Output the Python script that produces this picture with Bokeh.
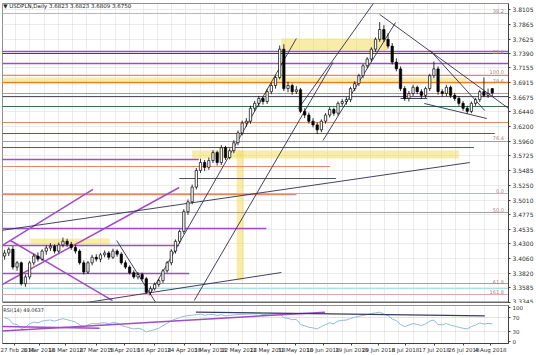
import numpy as np
from bokeh.plotting import figure
from bokeh.models import Range1d, FixedTicker, Label, Span, BoxAnnotation, Grid, PrintfTickFormatter
from bokeh.layouts import column
from bokeh.embed import file_html
from bokeh.resources import INLINE
from bokeh.core.properties import value

# ---------------- data ----------------
opens = [3.410,3.415,3.421,3.392,3.399,3.365,3.376,3.399,3.410,3.405,
         3.418,3.423,3.426,3.418,3.428,3.434,3.429,3.424,3.418,3.399,
         3.384,3.399,3.408,3.405,3.412,3.415,3.408,3.418,3.413,3.399,
         3.392,3.383,3.376,3.380,3.373,3.351,3.357,3.364,3.370,3.386,
         3.399,3.418,3.434,3.450,3.482,3.498,3.522,3.549,3.562,3.554,
         3.565,3.578,3.562,3.586,3.570,3.581,3.594,3.610,3.626,3.629,
         3.650,3.658,3.666,3.661,3.677,3.687,3.700,3.746,3.682,3.687,
         3.677,3.680,3.645,3.639,3.629,3.623,3.615,3.629,3.639,3.648,
         3.642,3.658,3.661,3.664,3.682,3.690,3.703,3.719,3.730,3.746,
         3.762,3.778,3.762,3.751,3.725,3.714,3.682,3.666,3.674,3.684,
         3.677,3.671,3.682,3.703,3.714,3.677,3.674,3.684,3.671,3.666,
         3.658,3.650,3.645,3.658,3.664,3.677,3.671,3.682]
highs = [3.420,3.424,3.426,3.402,3.401,3.380,3.402,3.414,3.416,3.421,
         3.427,3.431,3.429,3.432,3.440,3.438,3.433,3.428,3.421,3.403,
         3.402,3.412,3.413,3.415,3.419,3.418,3.422,3.421,3.416,3.403,
         3.395,3.387,3.384,3.383,3.376,3.361,3.367,3.373,3.389,3.402,
         3.421,3.437,3.453,3.486,3.502,3.526,3.553,3.568,3.566,3.570,
         3.582,3.581,3.590,3.589,3.585,3.598,3.614,3.630,3.634,3.654,
         3.662,3.670,3.669,3.681,3.691,3.703,3.752,3.754,3.693,3.690,
         3.686,3.683,3.650,3.643,3.634,3.627,3.632,3.642,3.652,3.651,
         3.661,3.665,3.668,3.685,3.694,3.706,3.722,3.733,3.749,3.765,
         3.790,3.785,3.772,3.756,3.731,3.718,3.686,3.678,3.688,3.687,
         3.681,3.685,3.706,3.726,3.718,3.681,3.688,3.687,3.675,3.670,
         3.662,3.654,3.661,3.667,3.680,3.700,3.682,3.682]
lows = [3.404,3.410,3.388,3.386,3.362,3.360,3.372,3.395,3.401,3.402,
        3.412,3.418,3.414,3.415,3.424,3.425,3.420,3.414,3.396,3.380,
        3.381,3.395,3.401,3.400,3.408,3.404,3.405,3.409,3.396,3.389,
        3.380,3.373,3.372,3.370,3.349,3.347,3.354,3.360,3.366,3.383,
        3.395,3.414,3.430,3.446,3.477,3.494,3.518,3.545,3.548,3.550,
        3.561,3.557,3.558,3.566,3.567,3.577,3.590,3.606,3.620,3.625,
        3.645,3.653,3.656,3.657,3.673,3.682,3.697,3.678,3.676,3.672,
        3.673,3.642,3.634,3.625,3.619,3.608,3.611,3.625,3.635,3.638,
        3.638,3.654,3.656,3.660,3.678,3.686,3.699,3.715,3.726,3.742,
        3.758,3.758,3.747,3.721,3.710,3.678,3.662,3.661,3.670,3.673,
        3.666,3.667,3.678,3.699,3.672,3.669,3.670,3.667,3.662,3.654,
        3.646,3.641,3.642,3.654,3.660,3.668,3.667,3.670]
closes = [3.415,3.421,3.392,3.399,3.365,3.376,3.399,3.410,3.405,3.418,
          3.423,3.426,3.418,3.428,3.434,3.429,3.424,3.418,3.399,3.384,
          3.399,3.408,3.405,3.412,3.415,3.408,3.418,3.413,3.399,3.392,
          3.383,3.376,3.380,3.373,3.351,3.357,3.364,3.370,3.386,3.399,
          3.418,3.434,3.450,3.482,3.498,3.522,3.549,3.562,3.554,3.565,
          3.578,3.562,3.586,3.570,3.581,3.594,3.610,3.626,3.629,3.650,
          3.658,3.666,3.661,3.677,3.687,3.700,3.746,3.682,3.687,3.677,
          3.680,3.645,3.639,3.629,3.623,3.615,3.629,3.639,3.648,3.642,
          3.658,3.661,3.664,3.682,3.690,3.703,3.719,3.730,3.746,3.762,
          3.778,3.762,3.751,3.725,3.714,3.682,3.666,3.674,3.684,3.677,
          3.671,3.682,3.703,3.714,3.677,3.674,3.684,3.671,3.666,3.658,
          3.650,3.645,3.658,3.664,3.677,3.671,3.674,3.675]
rsi = [70,66,52,50,38, 42,52,57,55,60, 62,63,60,64,67, 64,61,57,49,43,
       49,53,52,54,55, 52,56,54,47,44, 40,37,39,36,28, 32,35,39,47,53,
       61,66,70,74,76, 77,79,80,77,79, 80,76,79,75,77, 78,79,80,80,81,
       81,82,79,80,81, 81,83,70,68,64, 65,50,46,42,40, 37,44,50,55,52,
       60,62,63,68,71, 74,77,79,82,84, 86,80,76,66,61, 50,44,48,53,50,
       47,52,60,63,50, 49,53,48,45,42, 39,37,44,48,55, 51,53,52]

price_ticks = [3.3345,3.3585,3.3820,3.4060,3.4300,3.4535,3.4775,3.5010,3.5250,
               3.5485,3.5725,3.5960,3.6200,3.6440,3.6675,3.6915,3.7155,3.7390,
               3.7625,3.7865,3.8105]
rsi_ticks = [0, 30, 70, 100]
date_labels = ["27 Feb 2018","8 Mar 2018","18 Mar 2018","27 Mar 2018","5 Apr 2018",
               "16 Apr 2018","24 Apr 2018","3 May 2018","12 May 2018","22 May 2018",
               "31 May 2018","10 Jun 2018","19 Jun 2018","29 Jun 2018","8 Jul 2018",
               "17 Jul 2018","26 Jul 2018","4 Aug 2018"]
date_pos = [2.3,8.3,14.7,22.1,28.8,35.9,43.1,49.3,56.2,63.1,69.7,76.4,83.3,89.7,96.2,103.1,110.2,116.6]
last_price = 3.6750

# horizontal levels: (price, x_from, x_to)
purple_levels = [(3.7422,-1,121),(3.7228,-1,121),(3.5668,-1,46.6),(3.4547,-1,62.8),
                 (3.4271,-1,41.9),(3.3816,-1,44.3)]
dpurple_levels = [(3.7390,-1,121)]
lpurple_levels = [(3.6740,-1,121)]
orange_levels = [(3.7033,-1,121),(3.6269,-1,121),(3.5554,-1,78.1),(3.5099,-1,70.0)]
sorange_levels = [(3.6919,-1,121)]
green_levels = [(3.6529,-1,121),(3.6090,-1,117.6),(3.5863,-1,112.6)]
dark_levels = [(3.6691,-1,121),(3.5359,41.9,79.5)]
gray_levels = [(3.5960,-1,121),(3.4807,-1,121),(3.3653,-1,121)]
pink_levels = [(3.8040,-1,121),(3.5116,-1,121),(3.3475,-1,121)]
cyan_levels = [(3.3572,-1,121)]
fib_labels = [("38.2",3.8075),("23.6",3.7420),("100.0",3.7085),("78.6",3.6950),
              ("76.4",3.6020),("0.0",3.5160),("50.0",3.4850),("61.8",3.3685),("161.8",3.3510)]

# yellow zones (x0, x1, y0, y1)
yellow_zones = [(66.4,91.9,3.7439,3.7634),(-1,110.9,3.6935,3.7000),(45.0,109.0,3.5684,3.5814),
                (55.7,57.4,3.3702,3.5814),(6.2,25.2,3.4287,3.4385)]

# trendlines (x0, y0, x1, y1)
navy_lines = [(-1,3.4514,111.6,3.5619),(18.1,3.3329,66.4,3.3832),(26.9,3.4352,36.4,3.3329),
              (34.7,3.3459,70.0,3.7634),(45.5,3.3377,78.8,3.7244),(70.5,3.6496,89.0,3.8251),
              (76.4,3.5977,93.8,3.7894),(90.0,3.8024,121.6,3.6464),(102.1,3.7439,115.2,3.6464),
              (100.7,3.6578,115.7,3.6334),(95.0,3.6659,101.4,3.6659)]
purple_lines = [(-1,3.4254,21.2,3.5181),(-1,3.3621,41.9,3.5213),(1.4,3.4352,25.9,3.3377)]
rsi_purple_lines = [(-1,30.6,76.9,86.1),(-1,44.4,22.8,38.9)]
rsi_navy_lines = [(45.9,86.1,115.2,75.0)]

FONT = "DejaVu Sans"
idx = np.arange(len(closes))
o = np.array(opens); c = np.array(closes); h = np.array(highs); l = np.array(lows)
inc = c >= o
dec = ~inc

xr = Range1d(-0.5, 120.9)
grid_x = (np.arange(0, 37) * 14.3 + 1 - 2) / 4.2 - 0.5

def style_axis(ax, fs="6px"):
    ax.major_label_text_font_size = fs
    ax.major_label_text_font = FONT
    ax.major_label_text_color = "#303030"
    ax.axis_line_color = "#404040"
    ax.major_tick_line_color = "#404040"
    ax.major_tick_out = 2
    ax.major_tick_in = 0
    ax.minor_tick_line_color = None
    ax.major_label_standoff = 2

p1 = figure(width=536, height=303, x_range=xr, y_range=Range1d(3.3329, 3.8202),
            output_backend="svg", toolbar_location=None, y_axis_location="right",
            x_axis_location=None, min_border_left=2, min_border_right=24,
            min_border_top=3, min_border_bottom=0)
p1.xgrid.visible = False
p1.ygrid.visible = False
p1.outline_line_color = "#909090"
p1.background_fill_color = "white"
ya = p1.yaxis[0]
ya.ticker = FixedTicker(ticks=price_ticks)
ya.formatter = PrintfTickFormatter(format="%.4f")
style_axis(ya)
gx = Grid(dimension=0, ticker=FixedTicker(ticks=list(grid_x)), grid_line_color="#d8d8d8", grid_line_dash="1 1")
gy = Grid(dimension=1, ticker=FixedTicker(ticks=price_ticks), grid_line_color="#d8d8d8", grid_line_dash="1 1")
p1.add_layout(gx); p1.add_layout(gy)

for (x0, x1, y0, y1) in yellow_zones:
    p1.add_layout(BoxAnnotation(left=x0, right=x1, bottom=y0, top=y1, fill_color="#f2dc5d",
                                fill_alpha=0.55, line_color=None, level="underlay"))

def hlines(levels, color, width, alpha=1.0):
    p1.segment([a[1] for a in levels], [a[0] for a in levels], [a[2] for a in levels],
               [a[0] for a in levels], line_color=color, line_width=width, line_alpha=alpha)

hlines(pink_levels, "#e3a3b3", 1)
hlines(cyan_levels, "#a8e0e8", 1)
hlines(gray_levels, "#a0a0a0", 1)
hlines(purple_levels, "#a04cc4", 1.4)
hlines(dpurple_levels, "#6a2d8a", 1.2)
hlines(lpurple_levels, "#b98ad0", 1.2)
hlines(orange_levels, "#e3866a", 1.2)
hlines(sorange_levels, "#f07a20", 1.6)
hlines(green_levels, "#3c6e48", 1.2)
hlines(dark_levels, "#505060", 1)

p1.segment([t[0] for t in purple_lines], [t[1] for t in purple_lines],
           [t[2] for t in purple_lines], [t[3] for t in purple_lines],
           line_color="#a04cc4", line_width=1.5)
p1.segment([t[0] for t in navy_lines], [t[1] for t in navy_lines],
           [t[2] for t in navy_lines], [t[3] for t in navy_lines],
           line_color="#2e2e50", line_width=0.9)

p1.text(x=[119.8] * len(fib_labels), y=[f[1] for f in fib_labels], text=[f[0] for f in fib_labels],
        text_font_size="5px", text_color="#b08080", text_align="right", text_baseline="middle",
        text_font=value(FONT))

p1.segment(idx, h, idx, l, line_color="black", line_width=0.8)
p1.vbar(idx[inc], 0.55, o[inc], c[inc], fill_color="white", line_color="black", line_width=0.7)
p1.vbar(idx[dec], 0.55, o[dec], c[dec], fill_color="black", line_color="black", line_width=0.7)

p1.add_layout(Span(location=3.3337, dimension="width", line_color="#6a6a6a", line_width=3))

p1.add_layout(Label(x=-0.3, y=3.8155, text="▼ USDPLN,Daily  3.6823 3.6823 3.6809 3.6750",
                    text_font_size="5.5px", text_font=FONT, text_color="#202020",
                    text_baseline="middle"))
p1.add_layout(Label(x=120.9, y=last_price, x_offset=2, text="3.6750", text_font_size="6px",
                    text_font=FONT, text_color="white", background_fill_color="black",
                    text_baseline="middle"))

p2 = figure(width=536, height=52, x_range=xr, y_range=Range1d(-5.6, 105.6),
            output_backend="svg", toolbar_location=None, y_axis_location="right",
            min_border_left=2, min_border_right=24, min_border_top=2, min_border_bottom=0)
p2.xgrid.visible = False
p2.ygrid.visible = False
p2.outline_line_color = "#909090"
ya2 = p2.yaxis[0]
ya2.ticker = FixedTicker(ticks=rsi_ticks)
style_axis(ya2, "5.5px")
xa = p2.xaxis[0]
xa.ticker = FixedTicker(ticks=date_pos)
xa.major_label_overrides = {p: t for p, t in zip(date_pos, date_labels)}
style_axis(xa, "5.5px")
xa.major_label_standoff = 1
p2.add_layout(Grid(dimension=0, ticker=FixedTicker(ticks=list(grid_x)), grid_line_color="#d8d8d8", grid_line_dash="1 1"))
p2.add_layout(Grid(dimension=1, ticker=FixedTicker(ticks=[30, 70]), grid_line_color="#c8c8c8", grid_line_dash="1 1"))

p2.line(idx, rsi, line_color="#8fbcd8", line_width=1)
p2.segment([t[0] for t in rsi_purple_lines], [t[1] for t in rsi_purple_lines],
           [t[2] for t in rsi_purple_lines], [t[3] for t in rsi_purple_lines],
           line_color="#a04cc4", line_width=1.5)
p2.segment([t[0] for t in rsi_navy_lines], [t[1] for t in rsi_navy_lines],
           [t[2] for t in rsi_navy_lines], [t[3] for t in rsi_navy_lines],
           line_color="#3a3a60", line_width=1.2)
p2.add_layout(Label(x=-0.3, y=92, text="RSI(14) 49.0637", text_font_size="5px", text_font=FONT,
                    text_color="#303030", text_baseline="middle"))

layout = column(p1, p2, spacing=0)
open("out.html", "w").write(file_html(layout, INLINE))
